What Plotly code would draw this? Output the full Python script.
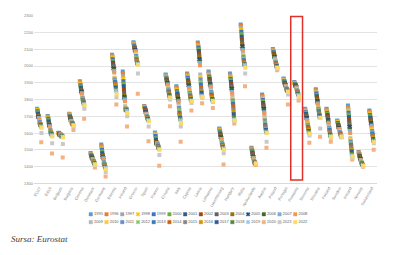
import plotly.graph_objects as go

years = list(range(1995, 2023))
countries = ["EU27", "EA19", "Belgium", "Bulgaria", "Czechia", "Denmark", "Germany", "Estonia",
             "Ireland", "Greece", "Spain", "France", "Croatia", "Italy", "Cyprus", "Latvia",
             "Lithuania", "Luxembourg", "Hungary", "Malta", "Netherlands", "Austria", "Poland",
             "Portugal", "Romania", "Slovenia", "Slovakia", "Finland", "Sweden", "Iceland",
             "Norway", "Switzerland"]

# values per country, 1995..2022
eu27 = [1745,1742,1740,1736,1731,1724,1716,1708,1702,1700,1694,1692,1690,1686,1664,1670,1667,1657,1652,1654,1652,1650,1647,1644,1638,1545,1600,1632]
ea19 = [1702,1698,1695,1691,1686,1677,1669,1661,1656,1652,1647,1644,1641,1637,1614,1620,1617,1606,1601,1603,1601,1599,1596,1593,1586,1478,1540,1580]
belgium = [1602,1600,1601,1598,1599,1596,1593,1591,1589,1591,1593,1589,1591,1593,1581,1586,1587,1583,1581,1583,1585,1581,1583,1581,1578,1455,1535,1576]
bulgaria = [1716,1714,1711,1708,1704,1699,1694,1691,1688,1683,1678,1675,1673,1671,1668,1665,1663,1661,1659,1657,1655,1653,1651,1649,1647,1618,1640,1645]
czechia = [1910,1905,1900,1893,1885,1878,1870,1862,1856,1852,1848,1842,1838,1832,1815,1812,1808,1802,1796,1793,1790,1786,1782,1778,1772,1686,1745,1766]
denmark = [1482,1478,1474,1470,1468,1465,1462,1458,1455,1452,1450,1448,1446,1444,1438,1440,1436,1432,1430,1428,1426,1424,1420,1418,1414,1395,1410,1412]
germany = [1532,1522,1515,1508,1500,1490,1480,1470,1462,1460,1455,1452,1450,1445,1420,1425,1426,1418,1412,1410,1408,1404,1400,1396,1392,1341,1368,1385]
estonia = [2068,2062,2058,2050,2040,2030,2020,2010,2000,1995,1985,1978,1970,1962,1930,1925,1920,1912,1905,1898,1890,1882,1872,1862,1852,1770,1815,1830]
ireland = [1968,1955,1940,1925,1910,1895,1880,1860,1840,1825,1815,1808,1800,1790,1760,1750,1745,1740,1738,1742,1745,1744,1740,1735,1732,1640,1700,1720]
greece = [2142,2138,2132,2128,2122,2115,2110,2108,2105,2100,2095,2090,2088,2085,2075,2070,2060,2050,2040,2035,2030,2025,2020,2018,2012,1835,1955,2008]
spain = [1762,1758,1755,1752,1750,1746,1742,1738,1734,1730,1725,1720,1716,1712,1710,1705,1702,1698,1694,1690,1688,1686,1684,1680,1676,1552,1640,1670]
france = [1604,1600,1596,1590,1582,1570,1560,1545,1540,1545,1542,1535,1538,1540,1530,1532,1534,1528,1524,1520,1518,1515,1512,1510,1506,1405,1470,1500]
croatia = [1950,1946,1940,1935,1930,1925,1920,1915,1910,1905,1900,1895,1890,1885,1872,1866,1860,1854,1848,1842,1836,1830,1826,1820,1814,1760,1800,1810]
italy = [1880,1872,1865,1858,1850,1842,1835,1828,1820,1812,1805,1798,1790,1782,1760,1755,1750,1738,1722,1712,1705,1700,1692,1685,1676,1548,1640,1660]
cyprus = [1955,1950,1945,1938,1930,1922,1915,1908,1900,1892,1885,1878,1870,1862,1850,1845,1840,1832,1825,1818,1812,1808,1802,1798,1792,1735,1780,1790]
latvia = [2140,2132,2125,2118,2110,2100,2090,2080,2068,2055,2040,2030,2018,2005,1950,1935,1920,1905,1890,1875,1862,1850,1840,1828,1820,1778,1810,1815]
lithuania = [1968,1960,1952,1945,1938,1930,1922,1915,1908,1900,1892,1885,1878,1870,1855,1850,1845,1838,1830,1822,1816,1810,1804,1798,1792,1750,1785,1790]
luxembourg = [1628,1624,1620,1615,1610,1604,1598,1592,1586,1580,1575,1570,1565,1560,1545,1548,1544,1538,1532,1528,1524,1520,1516,1512,1508,1412,1480,1500]
hungary = [1955,1948,1940,1932,1924,1915,1905,1895,1885,1875,1865,1855,1845,1835,1815,1805,1795,1785,1775,1760,1745,1730,1712,1695,1680,1658,1670,1675]
malta = [2248,2240,2230,2218,2205,2190,2175,2160,2145,2130,2118,2105,2095,2085,2075,2065,2055,2045,2035,2028,2020,2015,2010,2008,2005,1880,1955,1990]
netherlands = [1512,1508,1504,1500,1496,1490,1485,1478,1472,1466,1460,1456,1452,1448,1440,1438,1435,1430,1426,1424,1422,1420,1418,1416,1414,1410,1416,1420]
austria = [1830,1822,1815,1806,1798,1790,1780,1770,1760,1752,1745,1735,1725,1715,1695,1685,1675,1662,1650,1640,1632,1625,1618,1612,1604,1512,1548,1600]
poland = [2102,2098,2094,2090,2085,2080,2075,2070,2065,2060,2055,2050,2045,2040,2035,2030,2025,2020,2016,2012,2008,2004,2000,1996,1992,1975,1985,1988]
portugal = [1926,1922,1918,1914,1910,1906,1902,1898,1895,1892,1888,1885,1882,1880,1872,1870,1868,1864,1862,1860,1858,1856,1854,1852,1850,1770,1830,1845]
romania = [1905,1900,1898,1895,1892,1890,1888,1886,1884,1880,1878,1875,1872,1868,1862,1860,1856,1852,1848,1845,1842,1838,1834,1830,1826,1795,1812,1818]
slovenia = [1745,1740,1736,1730,1725,1720,1714,1708,1702,1696,1690,1684,1678,1672,1660,1655,1650,1642,1636,1630,1625,1618,1612,1606,1600,1542,1585,1595]
slovakia = [1862,1856,1850,1843,1836,1828,1820,1812,1805,1798,1790,1783,1776,1770,1755,1750,1745,1738,1730,1722,1715,1710,1705,1698,1692,1578,1628,1690]
finland = [1745,1740,1735,1728,1722,1715,1708,1700,1692,1685,1678,1670,1662,1655,1640,1636,1632,1625,1618,1610,1604,1598,1592,1586,1580,1548,1572,1578]
sweden = [1675,1672,1668,1665,1660,1655,1650,1645,1640,1636,1632,1628,1624,1620,1612,1610,1606,1602,1598,1594,1590,1586,1583,1580,1578,1575,1578,1580]
iceland = [1765,1755,1745,1735,1722,1710,1695,1680,1665,1650,1638,1625,1612,1600,1570,1560,1550,1540,1530,1520,1510,1500,1490,1475,1465,1442,1452,1460]
norway = [1488,1484,1480,1476,1472,1468,1464,1460,1456,1452,1448,1444,1440,1436,1430,1428,1426,1424,1420,1418,1416,1414,1412,1410,1406,1400,1404,1405]
switzerland = [1735,1728,1722,1715,1708,1700,1692,1684,1676,1668,1660,1652,1644,1636,1625,1620,1612,1604,1596,1588,1580,1572,1565,1558,1550,1500,1540,1545]

series_by_country = [eu27, ea19, belgium, bulgaria, czechia, denmark, germany, estonia, ireland,
                     greece, spain, france, croatia, italy, cyprus, latvia, lithuania, luxembourg,
                     hungary, malta, netherlands, austria, poland, portugal, romania, slovenia,
                     slovakia, finland, sweden, iceland, norway, switzerland]

colors = ["#5B9BD5", "#ED7D31", "#A5A5A5", "#FFC000", "#4472C4", "#70AD47",
          "#255E91", "#9E480E", "#636363", "#997300", "#264478", "#43682B",
          "#7CAFDD", "#F1975A", "#B7B7B7", "#FFCD33", "#698ED0", "#8CC168",
          "#327DC2", "#D26012", "#848484", "#CC9A00", "#335AA1", "#5A8A39",
          "#9DC3E6", "#F4B183", "#C9C9C9", "#FFD966"]
symbols = ["x" if i % 7 == 3 else "square" for i in range(len(years))]

highlight = "Romania"

fig = go.Figure()
for i, yr in enumerate(years):
    fig.add_trace(go.Scatter(
        x=countries, y=[s[i] for s in series_by_country], mode="markers",
        name=str(yr), offsetgroup=str(yr), alignmentgroup="a",
        marker=dict(symbol=symbols[i], size=4, color=colors[i],
                    line=dict(width=0.5 if symbols[i] == "x" else 0, color=colors[i])),
        showlegend=False, xaxis="x", yaxis="y"))

# custom compact legend (two rows of 14)
per_row = 14
fig.add_trace(go.Scatter(
    x=[i % per_row for i in range(len(years))],
    y=[1 - i // per_row for i in range(len(years))],
    mode="markers+text", text=[str(y) for y in years], textposition="middle right",
    textfont=dict(size=4, color="#595959", family="Liberation Sans"),
    marker=dict(symbol=symbols, size=3.5, color=colors,
                line=dict(width=0.4, color=colors)),
    showlegend=False, xaxis="x2", yaxis="y2", hoverinfo="skip", cliponaxis=False))

W, H = 400, 255
fig.update_layout(
    width=W, height=H, margin=dict(l=0, r=0, t=0, b=0),
    paper_bgcolor="white", plot_bgcolor="white",
    scattermode="group", scattergap=0.55,
    font=dict(family="Liberation Sans", color="#595959"),
    xaxis=dict(domain=[33 / W, 377 / W], type="category", categoryorder="array",
               categoryarray=countries, tickvals=countries, tickangle=-60,
               tickfont=dict(size=4, color="#7F7F7F"), showgrid=False,
               showline=True, linecolor="#D9D9D9", linewidth=0.8, ticks="", anchor="y"),
    yaxis=dict(domain=[1 - 184 / H, 1 - 13 / H], range=[1300, 2300], dtick=100,
               tickfont=dict(size=4, color="#7F7F7F"), showgrid=True,
               gridcolor="#E3E3E3", gridwidth=0.6, zeroline=False, showline=False,
               ticks="", anchor="x"),
    xaxis2=dict(domain=[90 / W, 295 / W], range=[0, per_row - 1], visible=False,
                anchor="y2", fixedrange=True),
    yaxis2=dict(domain=[1 - 223.5 / H, 1 - 215.5 / H], range=[0, 1], visible=False,
                anchor="x2", fixedrange=True),
)

idx = countries.index(highlight)
fig.add_shape(type="rect", xref="x", yref="y domain", x0=idx - 0.55, x1=idx + 0.55,
              y0=0.02, y1=0.995, line=dict(color="#E0302A", width=1.5))

fig.add_annotation(text="<i>Sursa: Eurostat</i>", xref="paper", yref="paper",
                   x=8 / W, y=1 - 241 / H, xanchor="left", yanchor="middle",
                   showarrow=False, font=dict(size=9, color="#404040", family="Liberation Serif"))

fig.write_html("out.html")
